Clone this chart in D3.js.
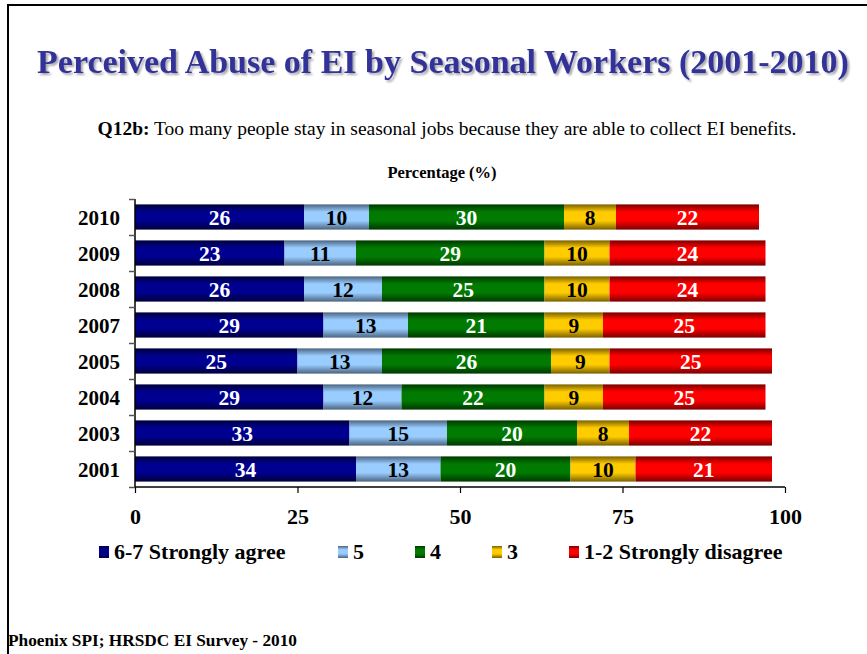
<!DOCTYPE html>
<html>
<head>
<meta charset="utf-8">
<script src="https://cdn.jsdelivr.net/npm/d3@7"></script>
<style>
  html, body { margin: 0; padding: 0; background: #fff; }
  svg { display: block; font-family: "Liberation Serif", "Times New Roman", serif; }
</style>
</head>
<body>
<svg id="chart" width="867" height="654"></svg>
<script>
// Survey years, top to bottom
const years = ["2010", "2009", "2008", "2007", "2005", "2004", "2003", "2001"];

// Response shares (%) per year, one array per answer group
const stronglyAgree = [26, 23, 26, 29, 25, 29, 33, 34];
const five          = [10, 11, 12, 13, 13, 12, 15, 13];
const four          = [30, 29, 25, 21, 26, 22, 20, 20];
const three         = [8, 10, 10, 9, 9, 9, 8, 10];
const stronglyDisagree = [22, 24, 24, 25, 25, 25, 22, 21];

const seriesNames = ["6-7 Strongly agree", "5", "4", "3", "1-2 Strongly disagree"];
const xTicks = [0, 25, 50, 75, 100];

const seriesValues = [stronglyAgree, five, four, three, stronglyDisagree];
// mid colour, edge colour, label colour
const palette = [
  { mid: "#000090", edge: "#00003a", text: "#fff" },
  { mid: "#99ccff", edge: "#4a6480", text: "#000" },
  { mid: "#007a00", edge: "#003800", text: "#fff" },
  { mid: "#ffcc00", edge: "#7a6000", text: "#000" },
  { mid: "#ff0000", edge: "#7a0000", text: "#fff" }
];

const rows = years.map((y, i) => {
  const row = { year: y };
  seriesNames.forEach((s, k) => { row[s] = seriesValues[k][i]; });
  return row;
});

const svg = d3.select("#chart");
const defs = svg.append("defs");

palette.forEach((p, k) => {
  const g = defs.append("linearGradient")
    .attr("id", "grad" + k).attr("x1", 0).attr("y1", 0).attr("x2", 0).attr("y2", 1);
  g.append("stop").attr("offset", "0%").attr("stop-color", p.edge);
  g.append("stop").attr("offset", "30%").attr("stop-color", p.mid);
  g.append("stop").attr("offset", "65%").attr("stop-color", p.mid);
  g.append("stop").attr("offset", "100%").attr("stop-color", p.edge);
});

const shadow = defs.append("filter").attr("id", "titleShadow")
  .attr("x", "-5%").attr("y", "-20%").attr("width", "110%").attr("height", "150%");
shadow.append("feGaussianBlur").attr("in", "SourceAlpha").attr("stdDeviation", 1.2).attr("result", "b");
shadow.append("feOffset").attr("in", "b").attr("dx", 2).attr("dy", 2).attr("result", "o");
shadow.append("feComponentTransfer").attr("in", "o").attr("result", "s")
  .append("feFuncA").attr("type", "linear").attr("slope", 0.35);
const merge = shadow.append("feMerge");
merge.append("feMergeNode").attr("in", "s");
merge.append("feMergeNode").attr("in", "SourceGraphic");

// Frame
svg.append("path")
  .attr("d", "M8,654 L8,5 L867,5")
  .attr("fill", "none").attr("stroke", "#000").attr("stroke-width", 2);

// Title
svg.append("text")
  .attr("x", 443).attr("y", 73)
  .attr("text-anchor", "middle")
  .attr("font-size", 34).attr("font-weight", "bold")
  .attr("fill", "#333399")
  .attr("filter", "url(#titleShadow)")
  .text("Perceived Abuse of EI by Seasonal Workers (2001-2010)");

// Question
const q = svg.append("text")
  .attr("x", 447).attr("y", 135).attr("text-anchor", "middle")
  .attr("font-size", 19.5);
q.append("tspan").attr("font-weight", "bold").text("Q12b:");
q.append("tspan").text(" Too many people stay in seasonal jobs because they are able to collect EI benefits.");

// Axis title
svg.append("text")
  .attr("x", 442).attr("y", 178).attr("text-anchor", "middle")
  .attr("font-size", 16.5).attr("font-weight", "bold")
  .text("Percentage (%)");

// Scales
const x = d3.scaleLinear().domain([0, 100]).range([135, 785]);
const y = d3.scaleBand().domain(years).range([199, 487]).paddingInner(0.3).paddingOuter(0.15);

const stack = d3.stack().keys(seriesNames);
const stacked = stack(rows);

const layers = svg.append("g").selectAll("g")
  .data(stacked).join("g")
  .attr("fill", (d, k) => `url(#grad${k})`);

layers.selectAll("rect")
  .data(d => d.map(p => ({ p, year: p.data.year })))
  .join("rect")
  .attr("x", d => x(d.p[0]))
  .attr("y", d => y(d.year))
  .attr("width", d => x(d.p[1]) - x(d.p[0]))
  .attr("height", y.bandwidth());

// Value labels
svg.append("g").selectAll("g")
  .data(stacked).join("g")
  .attr("fill", (d, k) => palette[k].text)
  .selectAll("text")
  .data(d => d.map(p => p))
  .join("text")
  .attr("x", p => (x(p[0]) + x(p[1])) / 2)
  .attr("y", p => y(p.data.year) + y.bandwidth() / 2 + 8)
  .attr("text-anchor", "middle")
  .attr("font-size", 21.5).attr("font-weight", "bold")
  .text(p => p[1] - p[0]);

// Y axis
const yAxis = svg.append("g")
  .attr("transform", "translate(135,0)")
  .call(d3.axisLeft(d3.scaleLinear().domain([0, 8]).range([199, 487])).ticks(8).tickSize(6).tickFormat(""));
yAxis.select(".domain").attr("stroke", "#000").attr("stroke-width", 1.5).attr("d", "M0,199V487");
yAxis.selectAll(".tick line").attr("stroke", "#555").attr("stroke-width", 1.5);

svg.append("g").selectAll("text")
  .data(years).join("text")
  .attr("x", 120)
  .attr("y", d => y(d) + y.bandwidth() / 2 + 7.5)
  .attr("text-anchor", "end")
  .attr("font-size", 21).attr("font-weight", "bold")
  .text(d => d);

// X axis
const xAxis = svg.append("g")
  .attr("transform", "translate(0,487)")
  .call(d3.axisBottom(x).tickValues(xTicks).tickSize(6).tickPadding(15));
xAxis.select(".domain").attr("stroke", "#000").attr("stroke-width", 1.5).attr("d", "M135,0H785");
xAxis.selectAll(".tick line").attr("stroke", "#000").attr("stroke-width", 1.2);
xAxis.selectAll(".tick text")
  .attr("font-family", "'Liberation Serif', 'Times New Roman', serif")
  .attr("font-size", 22).attr("font-weight", "bold").attr("fill", "#000");

// Legend
const legendX = [99, 338, 415, 492, 569];
const legend = svg.append("g").selectAll("g")
  .data(seriesNames).join("g")
  .attr("transform", (d, k) => `translate(${legendX[k]},546)`);
legend.append("rect")
  .attr("width", 10).attr("height", 12)
  .attr("fill", (d, k) => `url(#grad${k})`);
legend.append("text")
  .attr("x", 15).attr("y", 13)
  .attr("font-size", 22).attr("font-weight", "bold")
  .text(d => d);

// Source note
svg.append("text")
  .attr("x", 8).attr("y", 646)
  .attr("font-size", 17.3).attr("font-weight", "bold")
  .text("Phoenix SPI; HRSDC EI Survey - 2010");
</script>
</body>
</html>
